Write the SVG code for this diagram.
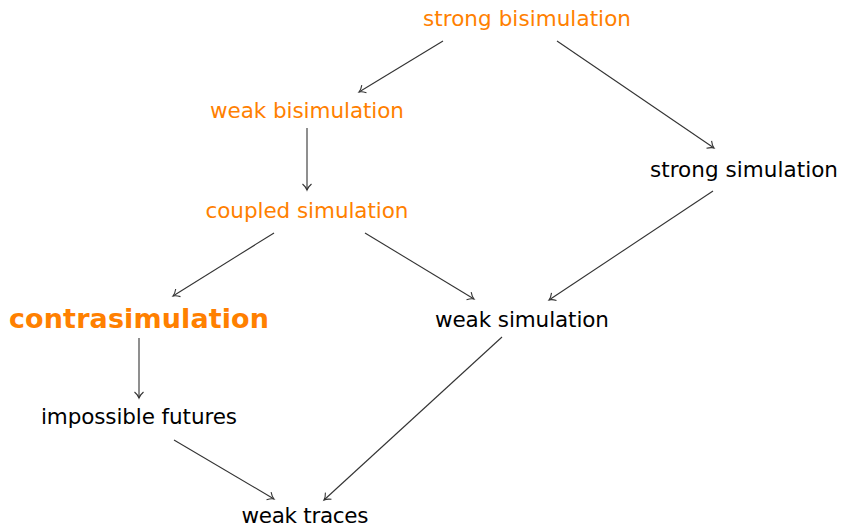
<svg xmlns="http://www.w3.org/2000/svg" width="841" height="529" viewBox="0 0 841 529">
<style>
text{font-family:"DejaVu Sans","Liberation Sans",sans-serif;font-size:21.5px;text-anchor:middle;fill:#000}
.o{fill:#ff8000}
.b{font-weight:bold;font-size:27px}
.e{stroke:#333;stroke-width:1.1;fill:none;marker-end:url(#a)}
</style>
<defs>
<marker id="a" markerWidth="12" markerHeight="12" refX="8" refY="6" orient="auto" markerUnits="userSpaceOnUse">
<path d="M2,1.5 Q5,5 8,6 Q5,7 2,10.5" fill="none" stroke="#333" stroke-width="1.1"/>
</marker>
</defs>
<rect width="841" height="529" fill="#fff"/>
<g id="edges">
<line class="e" x1="443" y1="41" x2="359" y2="92"/>
<line class="e" x1="557" y1="41" x2="714" y2="148"/>
<line class="e" x1="307" y1="128" x2="307" y2="190"/>
<line class="e" x1="713" y1="191" x2="549" y2="300"/>
<line class="e" x1="274" y1="233" x2="173" y2="296"/>
<line class="e" x1="365" y1="233" x2="474" y2="299"/>
<line class="e" x1="139" y1="338" x2="139" y2="398"/>
<line class="e" x1="502" y1="337" x2="324" y2="500"/>
<line class="e" x1="174" y1="440" x2="274" y2="499"/>
</g>
<g id="strong-bisimulation"><text class="o" x="527" y="26" textLength="208">strong bisimulation</text></g>
<g id="weak-bisimulation"><text class="o" x="307" y="118" textLength="194">weak bisimulation</text></g>
<g id="strong-simulation"><text x="744" y="177" textLength="188">strong simulation</text></g>
<g id="coupled-simulation"><text class="o" x="307" y="218" textLength="203">coupled simulation</text></g>
<g id="contrasimulation"><text class="o b" x="139" y="328" textLength="260">contrasimulation</text></g>
<g id="weak-simulation"><text x="522" y="327" textLength="174">weak simulation</text></g>
<g id="impossible-futures"><text x="139" y="424" textLength="196">impossible futures</text></g>
<g id="weak-traces"><text x="305" y="523" textLength="127">weak traces</text></g>
</svg>
